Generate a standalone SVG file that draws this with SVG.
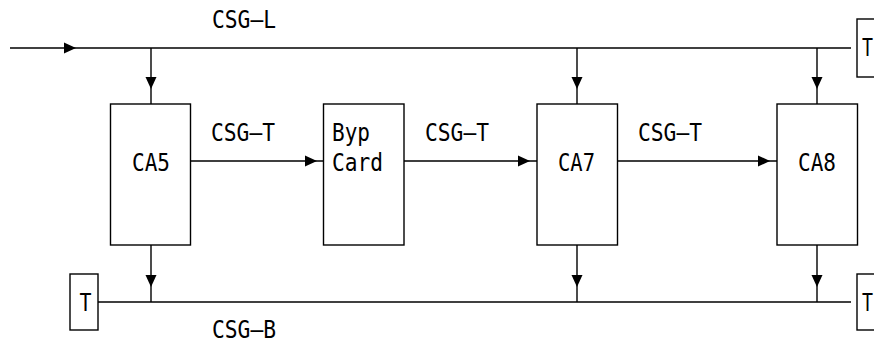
<svg xmlns="http://www.w3.org/2000/svg" width="874" height="343" viewBox="0 0 874 343">
<style>
.box{fill:#fff;stroke:#000;stroke-width:1.4}
.ln{fill:none;stroke:#000;stroke-width:1.4}
.ah{fill:#000}
text{font-family:"DejaVu Sans Mono","Liberation Mono",monospace;font-size:24px;fill:#000}
</style>
<defs>
<path id="ah" d="M0,0 L-12,-5.5 L-12,5.5 Z"/>
</defs>
<g id="connectors">
<path class="ln" d="M10,48 H851"/>
<path class="ln" d="M98,302 H851"/>
<path class="ln" d="M151,48 V104 M577,48 V104 M817,48 V104"/>
<path class="ln" d="M151,245 V302 M577,245 V302 M817,245 V302"/>
<path class="ln" d="M190,161 H323 M404,161 H537 M618,161 H777"/>
<use href="#ah" class="ah" transform="translate(76,48)"/>
<use href="#ah" class="ah" transform="translate(151,89) rotate(90)"/>
<use href="#ah" class="ah" transform="translate(577,89) rotate(90)"/>
<use href="#ah" class="ah" transform="translate(817,89) rotate(90)"/>
<use href="#ah" class="ah" transform="translate(151,287) rotate(90)"/>
<use href="#ah" class="ah" transform="translate(577,287) rotate(90)"/>
<use href="#ah" class="ah" transform="translate(817,287) rotate(90)"/>
<use href="#ah" class="ah" transform="translate(317,161)"/>
<use href="#ah" class="ah" transform="translate(530,161)"/>
<use href="#ah" class="ah" transform="translate(770,161)"/>
</g>
<g id="labels">
<text x="212" y="28" textLength="64" lengthAdjust="spacingAndGlyphs">CSG—L</text>
<text x="211" y="141" textLength="64" lengthAdjust="spacingAndGlyphs">CSG—T</text>
<text x="425" y="141" textLength="64" lengthAdjust="spacingAndGlyphs">CSG—T</text>
<text x="638" y="141" textLength="64" lengthAdjust="spacingAndGlyphs">CSG—T</text>
<text x="212" y="338" textLength="64" lengthAdjust="spacingAndGlyphs">CSG—B</text>
</g>
<g id="CA5">
<rect class="box" x="110.5" y="104" width="80" height="141"/>
<text x="132" y="171" textLength="38" lengthAdjust="spacingAndGlyphs">CA5</text>
</g>
<g id="BypCard">
<rect class="box" x="323.5" y="104" width="80.5" height="141"/>
<text x="332" y="141" textLength="38" lengthAdjust="spacingAndGlyphs">Byp</text>
<text x="332" y="171" textLength="51" lengthAdjust="spacingAndGlyphs">Card</text>
</g>
<g id="CA7">
<rect class="box" x="537" y="104" width="80.5" height="141"/>
<text x="558" y="171" textLength="37" lengthAdjust="spacingAndGlyphs">CA7</text>
</g>
<g id="CA8">
<rect class="box" x="777" y="104" width="80.5" height="141"/>
<text x="798" y="171" textLength="38" lengthAdjust="spacingAndGlyphs">CA8</text>
</g>
<g id="T_top_right">
<rect class="box" x="857" y="19" width="30" height="58"/>
<text x="862" y="56" textLength="11" lengthAdjust="spacingAndGlyphs">T</text>
</g>
<g id="T_bottom_left">
<rect class="box" x="70" y="274" width="28" height="56"/>
<text x="79.5" y="311" textLength="12" lengthAdjust="spacingAndGlyphs">T</text>
</g>
<g id="T_bottom_right">
<rect class="box" x="857" y="274" width="30" height="56"/>
<text x="862" y="311" textLength="11" lengthAdjust="spacingAndGlyphs">T</text>
</g>
</svg>
